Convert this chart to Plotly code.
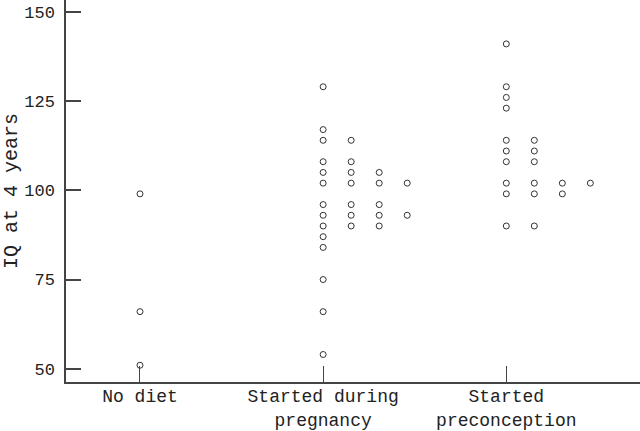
import plotly.graph_objects as go

# Группы и значения IQ
groups = ['No diet', 'Started during<br>pregnancy', 'Started<br>preconception']
iq_no_diet = [99, 66, 51]
iq_pregnancy = [129, 117, 114, 114, 108, 108, 105, 105, 105, 102, 102, 102, 102,
                96, 96, 96, 93, 93, 93, 93, 90, 90, 90, 87, 84, 75, 66, 54]
iq_preconception = [141, 129, 126, 123, 114, 114, 111, 111, 108, 108,
                    102, 102, 102, 102, 99, 99, 99, 90, 90]
y_ticks = [50, 75, 100, 125, 150]

step = 0.153  # шаг между столбиками одинаковых значений

fig = go.Figure()
for i, vals in enumerate([iq_no_diet, iq_pregnancy, iq_preconception]):
    xs, seen = [], {}
    for v in vals:
        k = seen.get(v, 0)
        seen[v] = k + 1
        xs.append(i + k * step)
    fig.add_trace(go.Scatter(
        x=xs, y=vals, mode='markers',
        marker=dict(symbol='circle-open', size=6, color='#333',
                    line=dict(width=1, color='#333')),
        showlegend=False, hoverinfo='y'
    ))

font = 'Liberation Mono, Courier New, monospace'
fig.update_layout(
    width=640, height=431,
    margin=dict(l=66, r=0, t=0, b=49),
    plot_bgcolor='white', paper_bgcolor='white',
    font=dict(family=font, size=18, color='#222'),
    xaxis=dict(
        range=[-0.404, 2.73], tickvals=[0, 1, 2], ticktext=groups,
        ticks='inside', ticklen=16, tickwidth=1, tickcolor='#444',
        showline=True, linecolor='#444', linewidth=1.5,
        showgrid=False, zeroline=False, tickfont=dict(size=18),
        ticklabelstandoff=-3, automargin=False
    ),
    yaxis=dict(
        range=[46.3, 153.3], tickvals=y_ticks,
        ticks='inside', ticklen=15, tickwidth=1.5, tickcolor='#444',
        showline=True, linecolor='#444', linewidth=1.5,
        showgrid=False, zeroline=False, tickfont=dict(size=17),
        title=dict(text='IQ at 4 years', font=dict(size=20), standoff=8),
        ticklabelstandoff=6, automargin=False
    )
)

# убрать отступы страницы, чтобы график занимал всё окно
fig.write_html('out.html', config={'displayModeBar': False},
               post_script="document.body.style.margin='0';")
